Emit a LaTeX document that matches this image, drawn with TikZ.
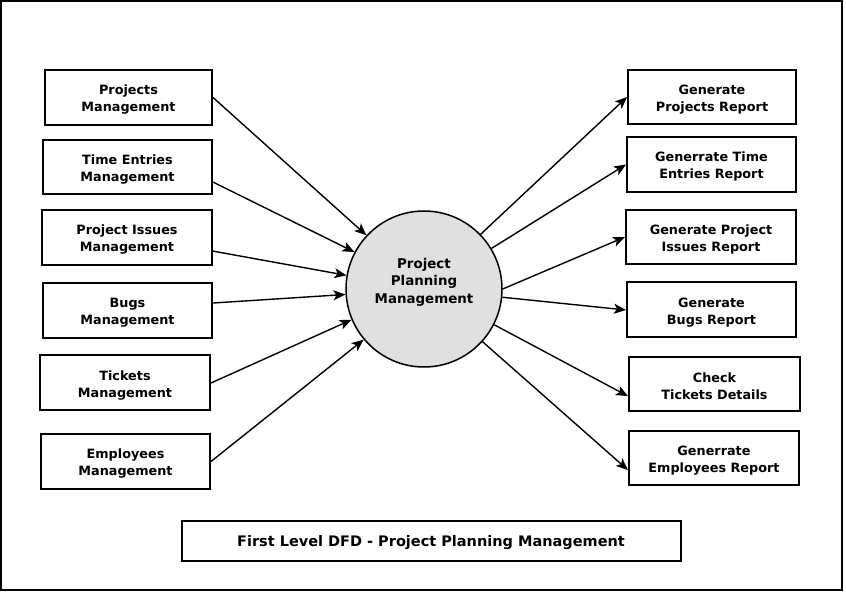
\documentclass[tikz,border=0pt]{standalone}
\usepackage{fontspec}
\setmainfont{DejaVu Sans}
\usepackage{tikz}
\usetikzlibrary{arrows.meta,shapes}
\newcommand{\boxlw}{2pt}
\newcommand{\flowlw}{1.4pt}
\newcommand{\textdrop}{31.5pt}
\definecolor{procgray}{RGB}{224,224,224}

\begin{document}
\begin{tikzpicture}[x=1pt,y=-1pt]
            \tikzset{entity/.style = {draw, line width=\boxlw, rectangle, align=center, inner sep=0pt,
                        font=\fontsize{12.8}{17}\selectfont\bfseries,
                        execute at begin node={\rule{0pt}{\textdrop}}},
                     captionbox/.style = {draw, line width=\boxlw, rectangle, inner sep=0pt,
                        font=\fontsize{14.5}{17}\selectfont\bfseries,
                        execute at begin node={\rule{0pt}{15pt}}},
                     process/.style = {draw, line width=1.5pt, circle, fill=procgray, minimum size=156pt, inner sep=0pt},
                     proctext/.style = {align=center, inner sep=0pt, font=\fontsize{13.4}{17.5}\selectfont\bfseries},
                     flow/.style = {line width=\flowlw, -{Stealth[length=12pt,width=10pt,inset=3pt]}}}
            \useasboundingbox (0,0) rectangle (846,593);
            \draw[line width=2pt] (1,1) rectangle (842,590);
            % central process
            \node[process] (ppm) at (424,289) {};
            \node[proctext] (ppmtext) at ([yshift=7pt]ppm.center) {Project\\Planning\\Management};
            % sources
            \node[entity, minimum width=167pt, minimum height=55pt] (pm) at (128.5,97.5) {Projects\\Management};
            \node[entity, minimum width=169pt, minimum height=54pt] (tem) at (127.5,167) {Time Entries\\Management};
            \node[entity, minimum width=170pt, minimum height=55pt] (pim) at (127,237.5) {Project Issues\\Management};
            \node[entity, minimum width=169pt, minimum height=55pt] (bm) at (127.5,310.5) {Bugs\\Management};
            \node[entity, minimum width=170pt, minimum height=55pt] (tm) at (125,383) {Tickets\\Management};
            \node[entity, minimum width=169pt, minimum height=55pt] (em) at (125.5,461.5) {Employees\\Management};
            % sinks
            \node[entity, minimum width=168pt, minimum height=54pt] (gpr) at (712,97) {Generate\\Projects Report};
            \node[entity, minimum width=169pt, minimum height=55pt] (gtr) at (711.5,164.5) {Generrate Time\\Entries Report};
            \node[entity, minimum width=170pt, minimum height=54pt] (gir) at (711,237) {Generate Project\\Issues Report};
            \node[entity, minimum width=169pt, minimum height=55pt] (gbr) at (711.5,310) {Generate\\Bugs Report};
            \node[entity, minimum width=171pt, minimum height=54pt] (ctd) at (714.5,384) {Check\\Tickets Details};
            \node[entity, minimum width=170pt, minimum height=54pt] (ger) at (714,458) {Generrate\\Employees Report};
            % caption
            \node[captionbox, minimum width=499pt, minimum height=40pt]
                (title) at (431,541) {First Level DFD - Project Planning Management};

            \draw[flow] (pm.east) -- (ppm.137.5);
            \draw[flow] (tem.-10) -- (ppm.152.8);
            \draw[flow] (pim.-9.7) -- (ppm.170);
            \draw[flow] (bm.5) -- (ppm.184);
            \draw[flow] (tm.east) -- (ppm.203);
            \draw[flow] (em.east) -- (ppm.220);

            \draw[flow] (ppm.44) -- (gpr.west);
            \draw[flow] (ppm.31.7) -- (gtr.west);
            \draw[flow] (ppm.0) -- (gir.west);
            \draw[flow] (ppm.-6.6) -- (gbr.west);
            \draw[flow] (ppm.-27.5) -- (ctd.188.6);
            \draw[flow] (ppm.-42) -- (ger.188);
        \end{tikzpicture}
\end{document}
